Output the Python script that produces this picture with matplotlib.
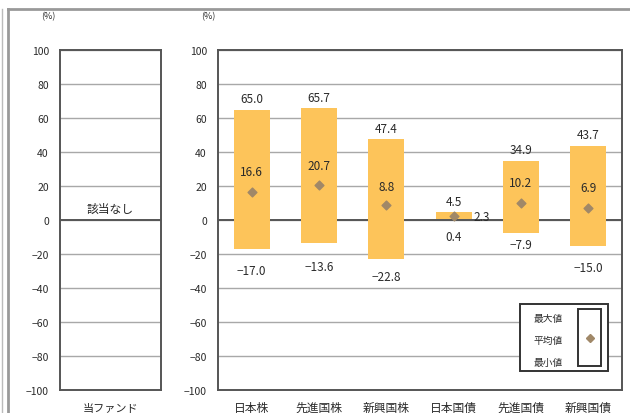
import matplotlib
matplotlib.use("Agg")
import matplotlib.pyplot as plt
from matplotlib.patches import Rectangle
from matplotlib.lines import Line2D

plt.rcParams['font.family'] = ['Noto Sans CJK JP', 'DejaVu Sans']

categories = ['日本株', '先進国株', '新興国株', '日本国債', '先進国債', '新興国債']
max_vals = [65.0, 65.7, 47.4, 4.5, 34.9, 43.7]
mean_vals = [16.6, 20.7, 8.8, 2.3, 10.2, 6.9]
min_vals = [-17.0, -13.6, -22.8, 0.4, -7.9, -15.0]
fund_label = ['当ファンド']
yticks = [100, 80, 60, 40, 20, 0, -20, -40, -60, -80, -100]

BAR = '#FDC45A'
DIA = '#A08868'
GRID = '#A8A8A8'
SPINE = '#555555'
TXT = '#2A2A2A'

W, H = 630, 414
fig = plt.figure(figsize=(W / 100, H / 100), dpi=100)

def px_rect(x0, y0, x1, y1):
    return [x0 / W, 1 - y1 / H, (x1 - x0) / W, (y1 - y0) / H]

# outer frame
fig.add_artist(Line2D([8 / W, 1.0], [1 - 10 / H, 1 - 10 / H], color='#999999', lw=2.0))
fig.add_artist(Line2D([8 / W, 8 / W], [0, 1 - 10 / H], color='#999999', lw=2.0))
fig.add_artist(Line2D([1.5 / W, 1.5 / W], [0, 1 - 10 / H], color='#BBBBBB', lw=1.0))

def style_axes(ax):
    ax.set_ylim(-100, 100)
    ax.set_yticks(yticks)
    ax.tick_params(axis='y', length=0, pad=8, labelsize=7.5, labelcolor=TXT)
    for s in ax.spines.values():
        s.set_color(SPINE)
        s.set_linewidth(1.4)
    ax.grid(axis='y', color=GRID, lw=1.0)
    ax.set_axisbelow(True)
    ax.axhline(0, color=SPINE, lw=1.4, zorder=1)

def cat_labels(ax, positions, labels, size):
    ax.set_xticks(positions)
    ax.set_xticklabels([])
    ax.tick_params(axis='x', length=0)
    for p, lbl in zip(positions, labels):
        ax.annotate(lbl, (p, 0), xycoords=('data', 'axes fraction'), xytext=(0, -21),
                    textcoords='offset pixels', ha='center', va='baseline',
                    fontsize=size, color=TXT, annotation_clip=False)

# left axes
axL = fig.add_axes(px_rect(60, 51, 161, 391))
style_axes(axL)
axL.set_xlim(-0.5, 0.5)
cat_labels(axL, [0], fund_label, 8)
axL.text(0, 7, '該当なし', ha='center', va='center', fontsize=8.5, color=TXT)
fig.text(48 / W, 1 - 17 / H, '(%)', ha='center', va='center', fontsize=6.5, color=TXT)

# right axes
axR = fig.add_axes(px_rect(218, 51, 622, 391))
style_axes(axR)
x = list(range(len(categories)))
axR.set_xlim(-0.5, len(categories) - 0.5)
cat_labels(axR, x, categories, 8.5)
fig.text(208 / W, 1 - 17 / H, '(%)', ha='center', va='center', fontsize=6.5, color=TXT)

heights = [mx - mn for mx, mn in zip(max_vals, min_vals)]
axR.bar(x, heights, bottom=min_vals, width=0.53, color=BAR, zorder=2)
axR.scatter(x, mean_vals, marker='D', s=20, color=DIA, zorder=3)

mean_off = [(0, 20), (0, 19), (0, 19), (28, 0), (0, 20), (0, 21)]
min_off = [-22, -23, -18, -17, -11, -22]
for i in x:
    axR.annotate(f'{max_vals[i]:.1f}', (i, max_vals[i]), xytext=(0, 11),
                 textcoords='offset pixels', ha='center', va='center',
                 fontsize=8.5, color=TXT)
    axR.annotate(f'{mean_vals[i]:.1f}', (i, mean_vals[i]), xytext=mean_off[i],
                 textcoords='offset pixels', ha='center', va='center',
                 fontsize=8.5, color=TXT, zorder=4)
    lab = f'{min_vals[i]:.1f}'.replace('-', '−')
    axR.annotate(lab, (i, min_vals[i]), xytext=(0, min_off[i]),
                 textcoords='offset pixels', ha='center', va='center',
                 fontsize=8.5, color=TXT)

# legend box
fig.add_artist(Rectangle((520 / W, 1 - 372 / H), 88 / W, 67 / H, transform=fig.transFigure,
                         fill=True, facecolor='white', edgecolor='#333333', lw=1.4, zorder=5))
fig.add_artist(Rectangle((578 / W, 1 - 367 / H), 23 / W, 57 / H, transform=fig.transFigure,
                         fill=False, edgecolor='#333333', lw=1.4, zorder=6))
for lbl, yy in zip(['最大値', '平均値', '最小値'], [318, 340, 362]):
    fig.text(548 / W, 1 - (yy + 4) / H, lbl, ha='center', va='baseline', fontsize=7,
             color=TXT, zorder=6)
fig.add_artist(Line2D([589.5 / W], [1 - 339 / H], marker='D', markersize=4.4, color=DIA,
                      linestyle='none', zorder=7))

fig.savefig('out.png', dpi=100)
